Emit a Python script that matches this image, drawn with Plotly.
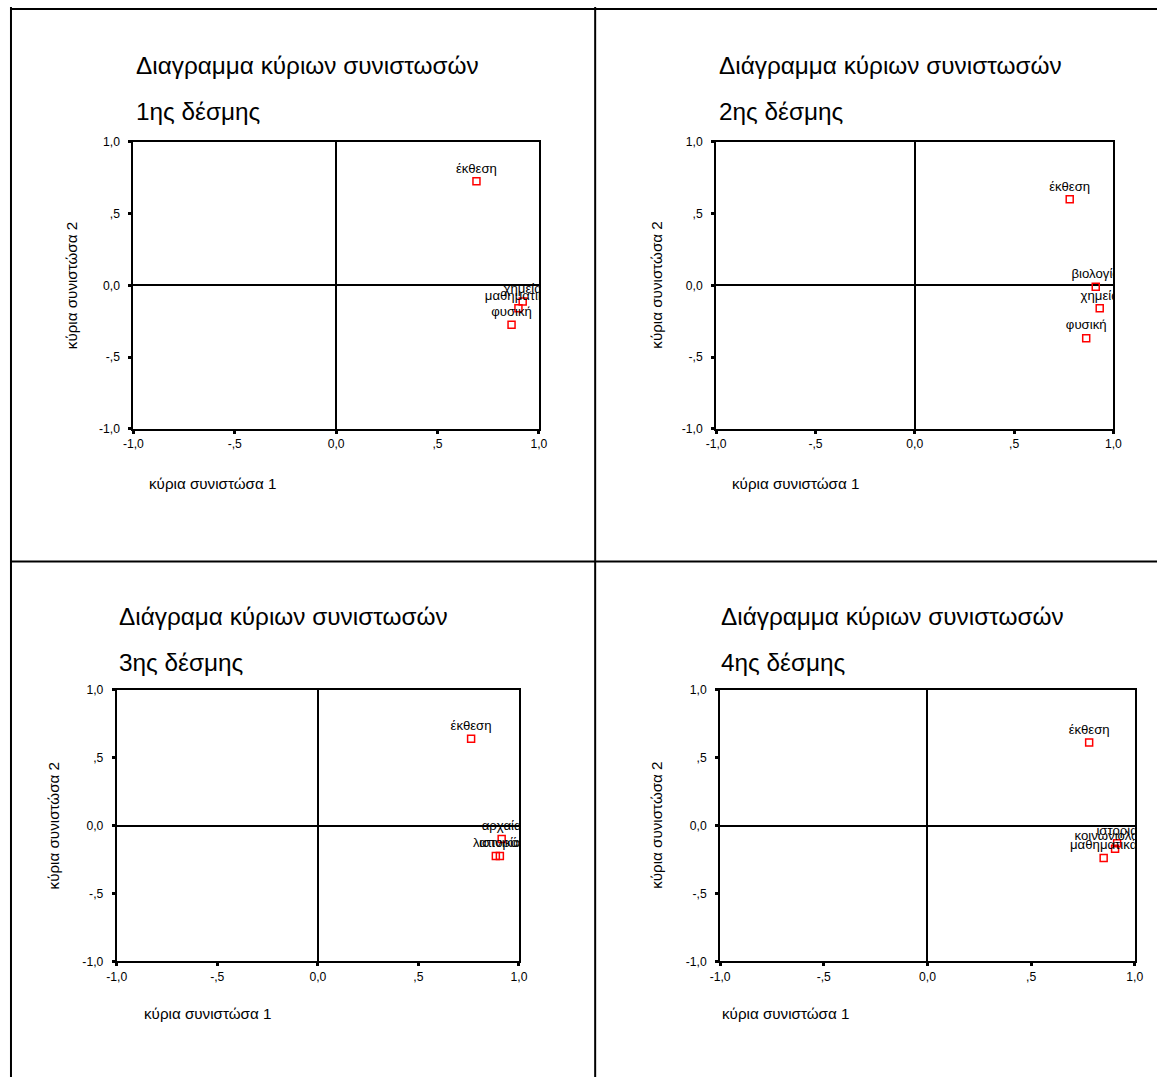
import plotly.graph_objects as go

W, H = 1166, 1084
# The captured picture shows the page slightly reduced and offset; positions
# below are given in reference-picture pixels and mapped back to page pixels.
SX, SY, OFF = 1150 / 1166, 1068 / 1084, 8.0

# ---- data ----
titles_line1 = ["Διαγραμμα κύριων συνιστωσών", "Διάγραμμα κύριων συνιστωσών",
                "Διάγραμα κύριων συνιστωσών", "Διάγραμμα κύριων συνιστωσών"]
titles_line2 = ["1ης δέσμης", "2ης δέσμης", "3ης δέσμης", "4ης δέσμης"]

labels_1 = ["έκθεση", "χημεία", "μαθηματικά", "φυσική"]
comp1_1 = [0.692, 0.920, 0.899, 0.865]
comp2_1 = [0.726, -0.113, -0.160, -0.274]

labels_2 = ["έκθεση", "βιολογία", "χημεία", "φυσική"]
comp1_2 = [0.780, 0.911, 0.931, 0.863]
comp2_2 = [0.600, -0.010, -0.160, -0.368]

labels_3 = ["έκθεση", "αρχαία", "λατινικά", "ιστορία"]
comp1_3 = [0.762, 0.914, 0.885, 0.905]
comp2_3 = [0.639, -0.099, -0.224, -0.224]

labels_4 = ["έκθεση", "ιστορία", "κοινωνιολογία", "μαθηματικά"]
comp1_4 = [0.780, 0.915, 0.905, 0.850]
comp2_4 = [0.610, -0.130, -0.170, -0.239]

tick_vals = [-1.0, -0.5, 0.0, 0.5, 1.0]
tick_text = ["-1,0", "-,5", "0,0", ",5", "1,0"]
x_title = "κύρια συνιστώσα 1"
y_title = "κύρια συνιστώσα 2"

panels = [
    (labels_1, comp1_1, comp2_1),
    (labels_2, comp1_2, comp2_2),
    (labels_3, comp1_3, comp2_3),
    (labels_4, comp1_4, comp2_4),
]

# ---- layout geometry (reference-picture pixels) ----
plot_px = [  # x0, x1, ytop, ybottom
    (131.7, 538.3, 142.7, 429.0),
    (716.0, 1114.3, 142.7, 429.0),
    (115.0, 518.3, 689.3, 960.7),
    (720.0, 1135.7, 689.3, 960.7),
]
title_pos = [(132, 66, 112), (717, 66, 112), (115, 616, 662), (719, 616, 662)]
ytitle_x = [70, 656, 52, 656]
xtitle_pos = [(145, 484), (730, 484), (140, 1013), (720, 1013)]

FONT = "Arial, Liberation Sans, sans-serif"
FS = 1 / SX  # font compensation

def px(x):
    return ((x - OFF) / SX) / W

def py(y):
    return 1 - ((y - OFF) / SY) / H

fig = go.Figure()
annotations = []
shapes = []

for i, (labs, xs, ys) in enumerate(panels):
    n = i + 1
    xa = "x" if n == 1 else f"x{n}"
    ya = "y" if n == 1 else f"y{n}"
    fig.add_trace(go.Scatter(
        x=xs, y=ys, text=labs, mode="markers+text",
        textposition="top center",
        textfont=dict(family=FONT, size=13 * FS, color="black"),
        marker=dict(symbol="square-open", size=7, color="red", line=dict(width=1.5)),
        cliponaxis=True, showlegend=False, xaxis=xa, yaxis=ya,
        hoverinfo="skip",
    ))
    x0, x1, yt, yb = plot_px[i]
    axis_common = dict(
        range=[-1, 1], tickvals=tick_vals, ticktext=tick_text,
        showgrid=False, zeroline=True, zerolinecolor="black", zerolinewidth=1.5,
        showline=True, linecolor="black", linewidth=2, mirror=True,
        ticks="outside", ticklen=3, tickwidth=3, tickcolor="black",
        tickfont=dict(family=FONT, size=12 * FS, color="black"),
        fixedrange=True,
    )
    xkey = "xaxis" if n == 1 else f"xaxis{n}"
    ykey = "yaxis" if n == 1 else f"yaxis{n}"
    fig.update_layout(**{
        xkey: dict(domain=[px(x0), px(x1)], anchor=ya, **axis_common),
        ykey: dict(domain=[py(yb), py(yt)], anchor=xa, ticklabelstandoff=6, **axis_common),
    })
    tx, ty1, ty2 = title_pos[i]
    annotations.append(dict(x=px(tx), y=py(ty1), xref="paper", yref="paper",
                            text=titles_line1[i], showarrow=False, xanchor="left",
                            yanchor="middle", font=dict(family=FONT, size=24 * FS, color="black")))
    annotations.append(dict(x=px(tx), y=py(ty2), xref="paper", yref="paper",
                            text=titles_line2[i], showarrow=False, xanchor="left",
                            yanchor="middle", font=dict(family=FONT, size=24 * FS, color="black")))
    annotations.append(dict(x=px(ytitle_x[i]), y=py((yt + yb) / 2), xref="paper", yref="paper",
                            text=y_title, showarrow=False, textangle=-90,
                            xanchor="center", yanchor="middle",
                            font=dict(family=FONT, size=15 * FS, color="black")))
    xtx, xty = xtitle_pos[i]
    annotations.append(dict(x=px(xtx), y=py(xty), xref="paper", yref="paper",
                            text=x_title, showarrow=False, xanchor="left", yanchor="middle",
                            font=dict(family=FONT, size=15 * FS, color="black")))

# frame / dividers (paper fractions; outer lines hug the page edge)
frame_lines = [
    (1.0 / W, 1.0, 1.0 / W, 0.0),
    (0.0, py(10), 1.0, py(10)),
    (px(594.7), 1.0, px(594.7), 0.0),
    (0.0, py(561.5), 1.0, py(561.5)),
]
for (ax0, ay0, ax1, ay1) in frame_lines:
    shapes.append(dict(type="line", xref="paper", yref="paper",
                       x0=ax0, y0=ay0, x1=ax1, y1=ay1,
                       line=dict(color="black", width=2)))

fig.update_layout(
    width=W, height=H, margin=dict(l=0, r=0, t=0, b=0),
    paper_bgcolor="white", plot_bgcolor="white",
    annotations=annotations, shapes=shapes,
    font=dict(family=FONT, color="black"),
)

fig.write_html(
    "out.html",
    config={"displayModeBar": False},
    post_script="document.body.style.margin='0';document.body.style.overflow='hidden';",
)
